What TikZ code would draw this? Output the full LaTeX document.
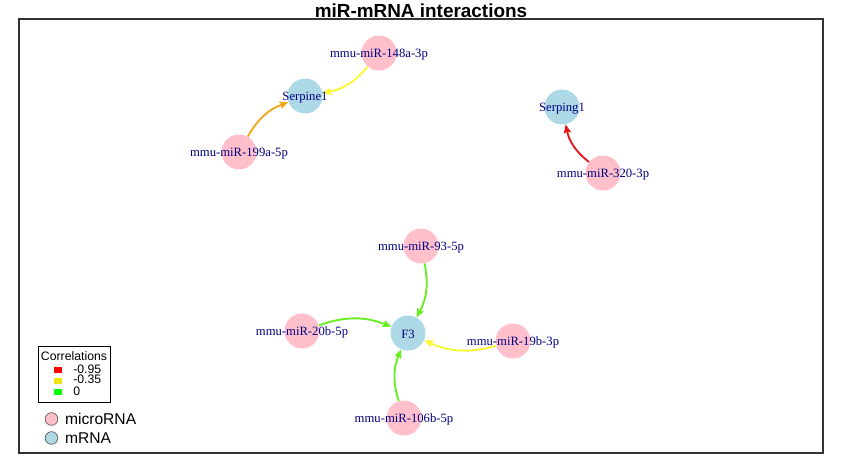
\documentclass[tikz,border=0pt]{standalone}
\usepackage{fontspec}
\setmainfont{Liberation Serif}
\setsansfont{Liberation Sans}
\usetikzlibrary{arrows.meta, positioning, backgrounds}
\usepackage{xcolor}
\definecolor{mirnacol}{HTML}{FFC0CB}
\definecolor{mrnacol}{HTML}{ADD8E6}
\definecolor{labelcol}{HTML}{000080}
\definecolor{redcol}{HTML}{E41A1C}
\definecolor{orangecol}{HTML}{F2A81D}
\definecolor{yellowcol}{HTML}{F7F733}
\definecolor{greencol}{HTML}{66EE22}
\definecolor{framecol}{HTML}{333333}

\begin{document}
\begin{tikzpicture}[
    x=0.75pt, y=-0.75pt,
    >={Stealth[length=6.5pt, width=5.5pt, inset=1pt]},
    mirna/.style={
        circle, fill=mirnacol, minimum size=26.25pt, inner sep=0pt
    },
    mrna/.style={
        circle, fill=mrnacol, minimum size=26.25pt, inner sep=0pt
    },
    nlabel/.style={
        text=labelcol, font=\fontsize{9.5}{10}\selectfont, inner sep=0pt, yshift=-1.2pt
    },
    edge/.style={
        ->, line width=1.4pt, bend left=20
    },
    legtext/.style={
        font=\sffamily\fontsize{9.2}{10}\selectfont, anchor=west, inner sep=0pt
    },
    legdot/.style={
        circle, draw=black!65, line width=0.5pt, minimum size=9.5pt, inner sep=0pt
    },
]

\useasboundingbox (0,0) rectangle (843,472);

% ── Title and frame ──
\node[font=\sffamily\bfseries\fontsize{14.2}{15}\selectfont] (title) at (421,11)
    {miR-mRNA interactions};
\draw[framecol, line width=0.8pt] (19,19) rectangle (823,453);

% ── mRNA nodes ──
\node[mrna, label={[nlabel]center:Serpine1}] (serpine) at (305,96) {};
\node[mrna, label={[nlabel]center:Serping1}] (serping) at (562,107) {};
\node[mrna, label={[nlabel]center:F3}]       (f3)      at (408,333) {};

% ── microRNA nodes ──
\node[mirna, label={[nlabel]center:mmu-miR-148a-3p}] (m148a) at (379,53) {};
\node[mirna, label={[nlabel]center:mmu-miR-199a-5p}] (m199a) at (239,152) {};
\node[mirna, label={[nlabel]center:mmu-miR-320-3p}]  (m320)  at (603,173) {};
\node[mirna, label={[nlabel]center:mmu-miR-93-5p}]   (m93)   at (421,246) {};
\node[mirna, label={[nlabel]center:mmu-miR-20b-5p}]  (m20b)  at (302,331) {};
\node[mirna, label={[nlabel]center:mmu-miR-19b-3p}]  (m19b)  at (513,341) {};
\node[mirna, label={[nlabel]center:mmu-miR-106b-5p}] (m106b) at (404,418) {};

% ── Interactions ──
\begin{scope}[on background layer]
\draw[edge, yellowcol] (m148a) to (serpine);
\draw[edge, orangecol] (m199a) to (serpine);
\draw[edge, redcol]    (m320)  to (serping);
\draw[edge, greencol]  (m93)   to (f3);
\draw[edge, greencol]  (m20b)  to (f3);
\draw[edge, yellowcol] (m19b)  to (f3);
\draw[edge, greencol]  (m106b) to (f3);
\end{scope}

% ── Correlation legend ──
\draw[black, line width=0.6pt] (38,346) rectangle (110,402);
\node[legtext, anchor=center] (corrtitle) at (74,356) {Correlations};
\fill[red]             (54,367) rectangle (62,373);
\fill[yellow!93!black] (54,378) rectangle (62,384);
\fill[green]           (54,389) rectangle (62,395);
\node[legtext] (vred)    at (73,369) {-0.95};
\node[legtext] (vyellow) at (73,379.5) {-0.35};
\node[legtext] (vgreen)  at (73,391) {0};

% ── Node type legend ──
\node[legdot, fill=mirnacol] (dotmi) at (51.5,419) {};
\node[legdot, fill=mrnacol]  (dotm)  at (51.5,438) {};
\node[legtext, font=\sffamily\fontsize{11.7}{12}\selectfont, right=5pt of dotmi] (txtmi) {microRNA};
\node[legtext, font=\sffamily\fontsize{11.7}{12}\selectfont, right=5pt of dotm]  (txtm)  {mRNA};

\end{tikzpicture}
\end{document}
